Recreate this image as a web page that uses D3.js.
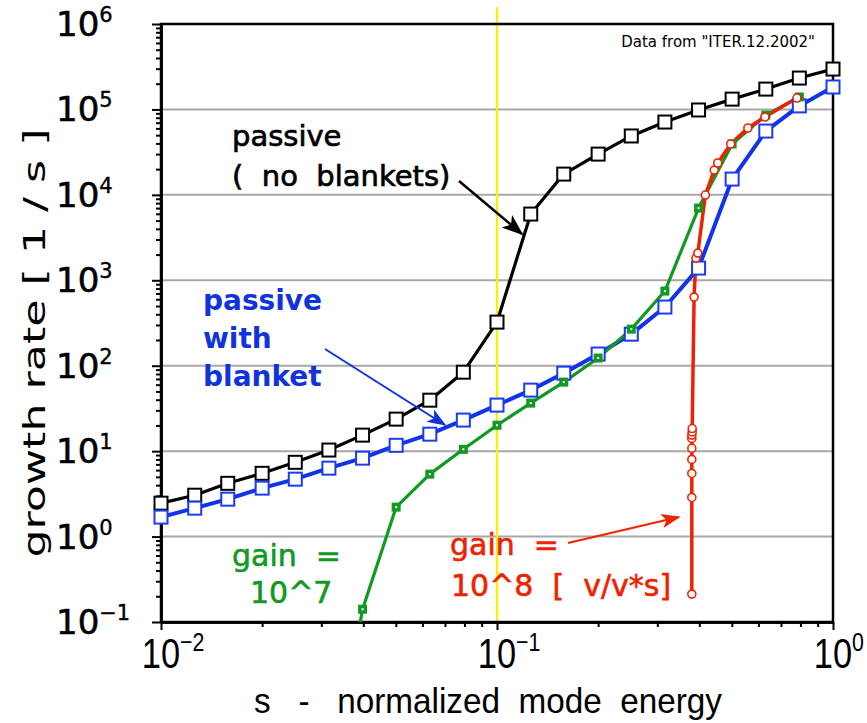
<!DOCTYPE html>
<html>
<head>
<meta charset="utf-8">
<script src="https://cdn.jsdelivr.net/npm/d3@7"></script>
<style>
  html, body { margin: 0; padding: 0; background: #fff; }
  svg { display: block; }
  text { white-space: pre; }
</style>
</head>
<body>
<svg id="chart" width="867" height="723"></svg>
<script>
// ---------------- data ----------------
const sGrid = [0.01, 0.0126, 0.0158, 0.02, 0.0251, 0.0316, 0.0398, 0.0501, 0.0631, 0.0794,
               0.1, 0.126, 0.158, 0.2, 0.251, 0.316, 0.398, 0.501, 0.631, 0.794, 1.0];
const passiveNoBlanket = [2.46, 3.05, 4.2, 5.5, 7.4, 10.3, 15.4, 23.7, 39.5, 84, 324, 5960,
                          17500, 30000, 48900, 71200, 98500, 132000, 173000, 233000, 297000];
const passiveBlanket = [1.69, 2.15, 2.74, 3.69, 4.70, 6.32, 8.28, 11.7, 15.8, 23.1, 34.6, 51.8,
                        81.8, 137, 234, 486, 1390, 15300, 55800, 110000, 183000];
const gain7S = [0.038, 0.0398, 0.0501, 0.0631, 0.0794, 0.1, 0.126, 0.158, 0.2, 0.251, 0.316,
                0.398, 0.501, 0.631, 0.794];
const gain7Vals = [0.05, 0.141, 2.21, 5.38, 10.5, 20.1, 36.5, 64.3, 123, 268, 748, 7000, 39400,
                   85900, 140000];
const gain8S = [0.380, 0.380, 0.380, 0.380, 0.380, 0.380, 0.380, 0.381, 0.381, 0.386, 0.391,
                0.396, 0.417, 0.443, 0.454, 0.496, 0.558, 0.627, 0.781];
const gain8Vals = [0.212, 2.87, 5.48, 8.0, 10.8, 14.1, 15.4, 16.8, 18.4, 636, 1820, 2080, 9950,
                   19500, 23600, 39400, 60600, 81500, 136000];
const xTickExp = [-2, -1, 0];
const yTickExp = [-1, 0, 1, 2, 3, 4, 5, 6];
const markerLine = 0.1;

// ---------------- layout ----------------
const svg = d3.select("#chart");
const X0 = 161, X1 = 833, Y0 = 622, Y1 = 24;
const x = d3.scaleLog().domain([0.01, 1]).range([X0, X1]);
const y = d3.scaleLog().domain([0.1, 1e6]).range([Y0, Y1]);
const FONT = "'DejaVu Sans', Verdana, sans-serif";
const NARROW = "'Liberation Sans', Arial, sans-serif";

const defs = svg.append("defs");
defs.append("clipPath").attr("id", "plotclip")
  .append("rect").attr("x", X0).attr("y", Y1).attr("width", X1 - X0).attr("height", Y0 - Y1);

function arrowMarker(id, color, w, l) {
  defs.append("marker").attr("id", id).attr("viewBox", "0 -10 24 20")
    .attr("refX", 22).attr("refY", 0).attr("markerWidth", l).attr("markerHeight", w)
    .attr("markerUnits", "userSpaceOnUse").attr("orient", "auto")
    .append("path").attr("d", "M0,-9 L24,0 L0,9 L6,0 Z").attr("fill", color);
}
arrowMarker("arrBlack", "#000", 18, 22);
arrowMarker("arrBlue", "#1133dd", 16, 22);
arrowMarker("arrRed", "#ee2200", 16, 22);

// gridlines
const gridVals = [1, 10, 100, 1e3, 1e4, 1e5];
svg.append("g").selectAll("line").data(gridVals).join("line")
  .attr("x1", X0).attr("x2", X1).attr("y1", d => y(d)).attr("y2", d => y(d))
  .attr("stroke", "#a8a8a8").attr("stroke-width", 2);

// yellow marker line
svg.append("line").attr("x1", x(markerLine)).attr("x2", x(markerLine))
  .attr("y1", 7).attr("y2", Y0).attr("stroke", "#ffee00").attr("stroke-width", 2.2);

// axes ticks
const yMajor = yTickExp.map(e => Math.pow(10, e));
const yMinor = [];
yTickExp.slice(0, -1).forEach(e => { for (let k = 2; k <= 9; k++) yMinor.push(k * Math.pow(10, e)); });
const xMajor = xTickExp.map(e => Math.pow(10, e));
const xMinor = [];
xTickExp.slice(0, -1).forEach(e => { for (let k = 2; k <= 9; k++) xMinor.push(k * Math.pow(10, e)); });

function styleAxis(g) {
  g.selectAll("path").attr("stroke", "#000").attr("stroke-width", 2.5);
  g.selectAll("line").attr("stroke", "#000").attr("stroke-width", 2);
  g.selectAll("text").remove();
}
svg.append("g").attr("transform", `translate(${X0},0)`)
  .call(d3.axisLeft(y).tickValues(yMinor).tickSize(5).tickSizeOuter(0).tickFormat(""))
  .call(styleAxis);
svg.append("g").attr("transform", `translate(${X0},0)`)
  .call(d3.axisLeft(y).tickValues(yMajor).tickSize(9).tickSizeOuter(0).tickFormat(""))
  .call(styleAxis);
svg.append("g").attr("transform", `translate(0,${Y0})`)
  .call(d3.axisBottom(x).tickValues(xMinor).tickSize(5).tickSizeOuter(0).tickFormat(""))
  .call(styleAxis);
svg.append("g").attr("transform", `translate(0,${Y0})`)
  .call(d3.axisBottom(x).tickValues(xMajor).tickSize(8).tickSizeOuter(0).tickFormat(""))
  .call(styleAxis);

// frame
svg.append("rect").attr("x", X0).attr("y", Y1).attr("width", X1 - X0).attr("height", Y0 - Y1)
  .attr("fill", "none").attr("stroke", "#000").attr("stroke-width", 2.5);

// y tick labels
const yl = svg.append("g").attr("font-family", FONT).attr("fill", "#000")
  .attr("stroke", "#000").attr("stroke-width", 0.6);
yTickExp.forEach(e => {
  const t = yl.append("text").attr("x", 56).attr("y", y(Math.pow(10, e)) + 12)
    .attr("font-size", 34);
  t.append("tspan").text("10");
  t.append("tspan").attr("dy", -14).attr("font-size", 21).attr("stroke-width", 0.4)
    .text(String(e).replace("-", "\u2212"));
});

// x tick labels (narrow)
xTickExp.forEach(e => {
  const g = svg.append("g").attr("transform", `translate(${x(Math.pow(10, e))},668) scale(0.82,1)`);
  const t = g.append("text").attr("x", -23.5).attr("y", 0)
    .attr("font-family", NARROW).attr("font-size", 42);
  t.append("tspan").text("10");
  t.append("tspan").attr("dy", -17).attr("font-size", 26).text(String(e).replace("-", "\u2212"));
});

// axis titles
svg.append("text").attr("x", 254).attr("y", 713)
  .attr("font-family", NARROW).attr("font-size", 35)
  .attr("textLength", 468).attr("lengthAdjust", "spacingAndGlyphs")
  .text("s   -   normalized  mode  energy");
svg.append("text").attr("transform", "translate(45,343) rotate(-90)")
  .attr("text-anchor", "middle").attr("font-family", FONT).attr("font-size", 30)
  .attr("textLength", 429).attr("lengthAdjust", "spacingAndGlyphs")
  .text("growth rate [ 1 / s ]");

// series
const plot = svg.append("g").attr("clip-path", "url(#plotclip)");
const line = d3.line().x(d => x(d[0])).y(d => y(d[1]));
const inDomain = d => d[1] >= 0.1 && d[0] >= 0.01;

function drawSeries(sArr, vArr, color, lw) {
  const pts = sArr.map((s, i) => [s, vArr[i]]);
  plot.append("path").datum(pts).attr("d", line).attr("fill", "none")
    .attr("stroke", color).attr("stroke-width", lw).attr("stroke-linejoin", "round");
  return pts.filter(inDomain);
}
// black
let pts = drawSeries(sGrid, passiveNoBlanket, "#000", 3.2);
svg.append("g").selectAll("rect").data(pts).join("rect")
  .attr("x", d => x(d[0]) - 6.5).attr("y", d => y(d[1]) - 6.5).attr("width", 13).attr("height", 13)
  .attr("fill", "#fff").attr("stroke", "#000").attr("stroke-width", 2);
// blue
pts = drawSeries(sGrid, passiveBlanket, "#1133ee", 4);
svg.append("g").selectAll("rect").data(pts).join("rect")
  .attr("x", d => x(d[0]) - 6.5).attr("y", d => y(d[1]) - 6.5).attr("width", 13).attr("height", 13)
  .attr("fill", "#fff").attr("stroke", "#1a3cf0").attr("stroke-width", 2);
// green
pts = drawSeries(gain7S, gain7Vals, "#119922", 3.2);
const gm = svg.append("g");
gm.selectAll("rect.o").data(pts).join("rect").attr("class", "o")
  .attr("x", d => x(d[0]) - 4.5).attr("y", d => y(d[1]) - 4.5).attr("width", 9).attr("height", 9)
  .attr("fill", "#119922");
gm.selectAll("rect.i").data(pts).join("rect").attr("class", "i")
  .attr("x", d => x(d[0]) - 1).attr("y", d => y(d[1]) - 1).attr("width", 2).attr("height", 2)
  .attr("fill", "#fff");
// red
pts = drawSeries(gain8S, gain8Vals, "#ee2200", 3.5);
svg.append("g").selectAll("circle").data(pts).join("circle")
  .attr("cx", d => x(d[0])).attr("cy", d => y(d[1])).attr("r", 4)
  .attr("fill", "#fff").attr("stroke", "#ee2200").attr("stroke-width", 1.6);

// annotations
function label(lines, x0, baselines, color, weight, size, sw) {
  const t = svg.append("text").attr("font-family", FONT).attr("font-size", size)
    .attr("font-weight", weight).attr("fill", color)
    .attr("stroke", color).attr("stroke-width", sw);
  lines.forEach((s, i) => t.append("tspan").attr("x", x0[i]).attr("y", baselines[i]).text(s));
}
label(["passive", "(  no  blankets)"], [232, 232], [146, 186], "#000", "normal", 29, 0.7);
label(["passive", "with", "blanket"], [203, 203, 203], [310, 348, 386], "#1133dd", "bold", 28, 0);
label(["gain  =", "10^7"], [232, 250], [566, 603], "#119922", "normal", 30, 0.6);
label(["gain  =", "10^8  [  v/v*s]"], [450, 451], [555, 596], "#ee2200", "normal", 30, 0.6);

svg.append("text").attr("x", 815).attr("y", 47).attr("text-anchor", "end")
  .attr("font-family", FONT).attr("font-size", 15).attr("fill", "#000")
  .text("Data from \"ITER.12.2002\"");

// arrows
svg.append("line").attr("x1", 459).attr("y1", 181).attr("x2", 522).attr("y2", 234)
  .attr("stroke", "#000").attr("stroke-width", 2.5).attr("marker-end", "url(#arrBlack)");
svg.append("line").attr("x1", 325).attr("y1", 349).attr("x2", 445).attr("y2", 425)
  .attr("stroke", "#1133dd").attr("stroke-width", 2).attr("marker-end", "url(#arrBlue)");
svg.append("line").attr("x1", 568).attr("y1", 543).attr("x2", 679).attr("y2", 517)
  .attr("stroke", "#ee2200").attr("stroke-width", 2).attr("marker-end", "url(#arrRed)");
</script>
</body>
</html>
